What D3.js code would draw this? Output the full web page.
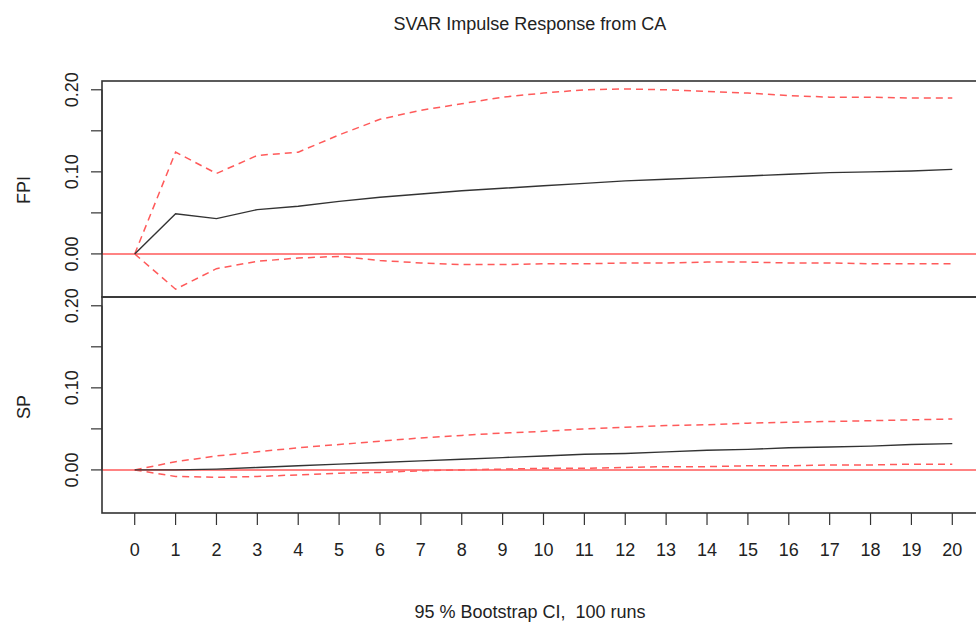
<!DOCTYPE html>
<html>
<head>
<meta charset="utf-8">
<script src="https://d3js.org/d3.v7.min.js"></script>
<style>
  body { margin: 0; background: #fff; }
  svg { display: block; font-family: "Liberation Sans", Arial, sans-serif; }
  text { white-space: pre; fill: #222; }
</style>
</head>
<body>
<script>
// horizons 0..20
const steps = d3.range(0, 21);

// FPI response to CA shock
const fpiIrf   = [0, 0.049, 0.043, 0.054, 0.058, 0.064, 0.069, 0.073, 0.077, 0.080, 0.083, 0.086, 0.089, 0.091, 0.093, 0.095, 0.097, 0.099, 0.100, 0.101, 0.103];
const fpiUpper = [0, 0.124, 0.098, 0.120, 0.124, 0.145, 0.164, 0.175, 0.183, 0.191, 0.196, 0.200, 0.201, 0.200, 0.198, 0.196, 0.193, 0.191, 0.191, 0.190, 0.190];
const fpiLower = [0, -0.043, -0.018, -0.009, -0.005, -0.003, -0.008, -0.011, -0.013, -0.013, -0.012, -0.012, -0.011, -0.011, -0.010, -0.010, -0.011, -0.011, -0.012, -0.012, -0.012];

// SP response to CA shock
const spIrf   = [0, 0.000, 0.001, 0.003, 0.005, 0.007, 0.009, 0.011, 0.013, 0.015, 0.017, 0.019, 0.020, 0.022, 0.024, 0.025, 0.027, 0.028, 0.029, 0.031, 0.032];
const spUpper = [0, 0.010, 0.017, 0.022, 0.027, 0.031, 0.035, 0.039, 0.042, 0.045, 0.047, 0.050, 0.052, 0.054, 0.055, 0.057, 0.058, 0.059, 0.060, 0.061, 0.062];
const spLower = [0, -0.008, -0.009, -0.008, -0.006, -0.004, -0.003, -0.001, 0.000, 0.001, 0.002, 0.002, 0.003, 0.004, 0.004, 0.005, 0.005, 0.006, 0.006, 0.007, 0.007];

const yTicks = [0, 0.05, 0.10, 0.15, 0.20];
const yLabels = [0, 0.10, 0.20];

const panels = [
    { name: 'FPI', irf: fpiIrf, upper: fpiUpper, lower: fpiLower },
    { name: 'SP', irf: spIrf, upper: spUpper, lower: spLower }
];

const width = 976, height = 628;
const left = 102, right = 985;
const panelTop = 81, panelH = 216;
const red = '#ff5a5a';

const svg = d3.select('body').append('svg')
    .attr('width', width)
    .attr('height', height);

const x = d3.scaleLinear().domain([-0.8, 20.8]).range([left, right]);

panels.forEach((p, i) => {
    const top = panelTop + i * panelH;
    const y = d3.scaleLinear().domain([-0.0525, 0.2107]).range([top + panelH, top]);
    const g = svg.append('g');

    // y axis
    g.append('line')
        .attr('x1', left).attr('x2', left)
        .attr('y1', y(0)).attr('y2', y(0.2))
        .attr('stroke', '#333').attr('stroke-width', 1.2);
    g.selectAll('.ytick').data(yTicks).enter()
        .append('line')
        .attr('x1', left - 11).attr('x2', left)
        .attr('y1', d => y(d)).attr('y2', d => y(d))
        .attr('stroke', '#333').attr('stroke-width', 1.2);
    g.selectAll('.ylab').data(yLabels).enter()
        .append('text')
        .attr('transform', d => `translate(${left - 24},${y(d)}) rotate(-90)`)
        .attr('text-anchor', 'middle')
        .attr('font-size', 18)
        .text(d => d.toFixed(2));

    g.append('text')
        .attr('transform', `translate(30,${top + (i === 0 ? 109 : 110)}) rotate(-90)`)
        .attr('text-anchor', 'middle')
        .attr('font-size', 18)
        .text(p.name);

    // zero line
    g.append('line')
        .attr('x1', left).attr('x2', right)
        .attr('y1', y(0)).attr('y2', y(0))
        .attr('stroke', red).attr('stroke-width', 1.5);

    const line = d3.line().x((d, j) => x(steps[j])).y(d => y(d));

    [p.upper, p.lower].forEach(ci => {
        g.append('path')
            .attr('d', line(ci))
            .attr('fill', 'none')
            .attr('stroke', red)
            .attr('stroke-width', 1.5)
            .attr('stroke-dasharray', '7,5');
    });

    g.append('path')
        .attr('d', line(p.irf))
        .attr('fill', 'none')
        .attr('stroke', '#333')
        .attr('stroke-width', 1.4);

    // frame
    g.append('rect')
        .attr('x', left).attr('y', top)
        .attr('width', right - left).attr('height', panelH)
        .attr('fill', 'none')
        .attr('stroke', '#333').attr('stroke-width', 1.6);
});

// x axis
const bottom = panelTop + 2 * panelH;
svg.selectAll('.xtick').data(steps).enter()
    .append('line')
    .attr('x1', d => x(d)).attr('x2', d => x(d))
    .attr('y1', bottom).attr('y2', bottom + 12)
    .attr('stroke', '#333').attr('stroke-width', 1.2);
svg.selectAll('.xlab').data(steps).enter()
    .append('text')
    .attr('x', d => x(d))
    .attr('y', bottom + 43)
    .attr('text-anchor', 'middle')
    .attr('font-size', 18)
    .text(d => d);

svg.append('text')
    .attr('x', 530).attr('y', 30)
    .attr('text-anchor', 'middle')
    .attr('font-size', 18)
    .text('SVAR Impulse Response from CA');

svg.append('text')
    .attr('x', 530).attr('y', 618)
    .attr('text-anchor', 'middle')
    .attr('font-size', 18)
    .text('95 % Bootstrap CI,  100 runs');
</script>
</body>
</html>
